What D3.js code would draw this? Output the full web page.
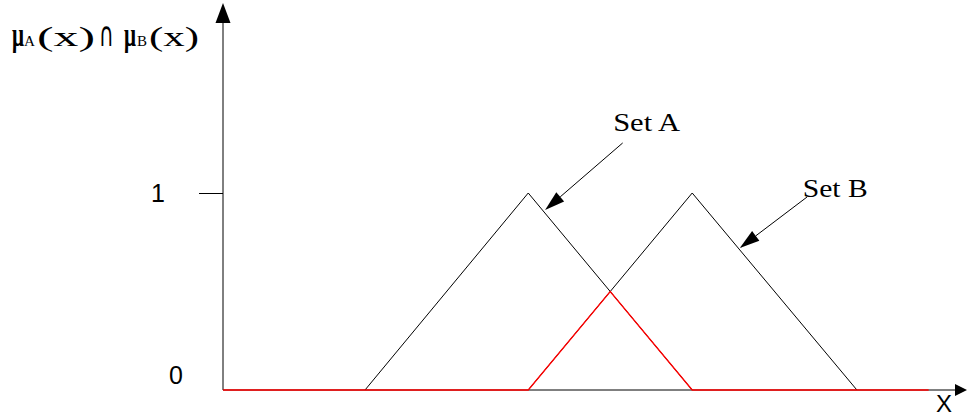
<!DOCTYPE html>
<html>
<head>
<meta charset="utf-8">
<script src="https://cdn.jsdelivr.net/npm/d3@7"></script>
<style>
    body { margin: 0; background: #fff; }
    svg { display: block; }
    .serif { font-family: "Liberation Serif", "Times New Roman", serif; }
    .sans { font-family: "Liberation Sans", Arial, sans-serif; }
</style>
</head>
<body>
<div id="chart"></div>
<script>
// triangular membership functions (x along the universe, 0..100)
const setAX = [19.4, 41.7, 64.1];
const setAY = [0, 1, 0];
const setBX = [41.7, 64.1, 86.6];
const setBY = [0, 1, 0];

// intersection of A and B (drawn red)
const interX = [0, 41.7, 52.9, 64.1, 96.4];
const interY = [0, 0, 0.5, 0, 0];

// y tick values / labels
const yTicks = [0, 1];
const yTickLabels = ['0', '1'];

// annotation labels
const setLabels = ['Set A', 'Set B'];

let width = 967,
    height = 415,
    x0 = 223, x1 = 955,   // x axis extent (before arrow head)
    yBase = 390, yOne = 193;

let x = d3.scaleLinear().domain([0, 100]).range([x0, x1]),
    y = d3.scaleLinear().domain([0, 1]).range([yBase, yOne]),
    line = d3.line().x(d => x(d[0])).y(d => y(d[1]));

let svg = d3.select('#chart')
    .append('svg')
    .attr('width', width)
    .attr('height', height);

svg.append('rect').attr('width', width).attr('height', height).attr('fill', '#fff');

// draws a line ending in a filled arrow head at (xb, yb)
function arrow(xa, ya, xb, yb, len, w) {
    let ang = Math.atan2(yb - ya, xb - xa),
        bx = xb - len * Math.cos(ang),
        by = yb - len * Math.sin(ang),
        px = Math.sin(ang) * w / 2,
        py = -Math.cos(ang) * w / 2;
    svg.append('line')
        .attr('x1', xa).attr('y1', ya)
        .attr('x2', bx).attr('y2', by)
        .attr('stroke', '#000').attr('stroke-width', 1);
    svg.append('polygon')
        .attr('points', [[xb, yb], [bx + px, by + py], [bx - px, by - py]].map(p => p.join(',')).join(' '))
        .attr('fill', '#000');
}

// axes with arrows
arrow(x0, yBase, x0, 3, 20, 15);
arrow(x0, yBase, 967, yBase, 12, 12);

// y axis ticks
let yAxis = d3.axisLeft(y)
    .tickValues(yTicks)
    .tickFormat((d, i) => yTickLabels[i])
    .tickSize(24)
    .tickSizeOuter(0)
    .tickPadding(34);

let gy = svg.append('g')
    .attr('transform', `translate(${x0},0)`)
    .call(yAxis);
gy.select('.domain').remove();
gy.selectAll('.tick line').attr('stroke', '#000').attr('stroke-width', 1);
gy.selectAll('.tick text')
    .attr('class', 'sans')
    .attr('font-size', 25)
    .attr('fill', '#000');
gy.selectAll('.tick').filter(d => d === 0).each(function () {
    d3.select(this).select('line').remove();
    d3.select(this).select('text').attr('x', -40).attr('dy', '-0.25em');
});

// sets A and B
let toPts = (xs, ys) => xs.map((v, i) => [v, ys[i]]);
svg.append('path')
    .attr('d', line(toPts(setAX, setAY)))
    .attr('fill', 'none').attr('stroke', '#000').attr('stroke-width', 1);
svg.append('path')
    .attr('d', line(toPts(setBX, setBY)))
    .attr('fill', 'none').attr('stroke', '#000').attr('stroke-width', 1);

// intersection
svg.append('path')
    .attr('d', line(toPts(interX, interY)))
    .attr('fill', 'none').attr('stroke', '#ff0000').attr('stroke-width', 1.3);

// annotations
let notes = [
    {label: setLabels[0], tx: 53.3, ty: 1.315, len: 67, from: [54.6, 1.254], to: [44.0, 0.914]},
    {label: setLabels[1], tx: 79.2, ty: 0.980, len: 65, from: [79.8, 0.980], to: [70.6, 0.721]}
];
notes.forEach(n => {
    arrow(x(n.from[0]), y(n.from[1]), x(n.to[0]), y(n.to[1]), 20, 12);
    svg.append('text')
        .attr('class', 'serif')
        .attr('x', x(n.tx)).attr('y', y(n.ty))
        .attr('font-size', 25)
        .attr('textLength', n.len)
        .attr('lengthAdjust', 'spacingAndGlyphs')
        .text(n.label);
});

// x axis label
svg.append('text')
    .attr('class', 'sans')
    .attr('x', 944).attr('y', 412)
    .attr('text-anchor', 'middle')
    .attr('font-size', 24)
    .text('X');

// y axis title: μA(x) ∩ μB(x)
let title = svg.append('text')
    .attr('class', 'serif')
    .attr('y', 46);
let titleParts = [
    {t: 'μ', x: 12, w: 12, size: 34, bold: true},
    {t: 'A', x: 24, w: 11, size: 15},
    {t: '(x)', x: 37, w: 58, size: 28},
    {t: '∩', x: 99, w: 15, size: 34, sans: true},
    {t: 'μ', x: 124, w: 12, size: 34, bold: true},
    {t: 'B', x: 137, w: 10, size: 15},
    {t: '(x)', x: 149, w: 50, size: 28}
];
titleParts.forEach(p => {
    title.append('tspan')
        .attr('x', p.x)
        .attr('font-size', p.size)
        .attr('font-family', p.sans ? '"DejaVu Sans", sans-serif' : null)
        .attr('font-weight', p.bold ? 'bold' : 'normal')
        .attr('textLength', p.w)
        .attr('lengthAdjust', 'spacingAndGlyphs')
        .text(p.t);
});
</script>
</body>
</html>
